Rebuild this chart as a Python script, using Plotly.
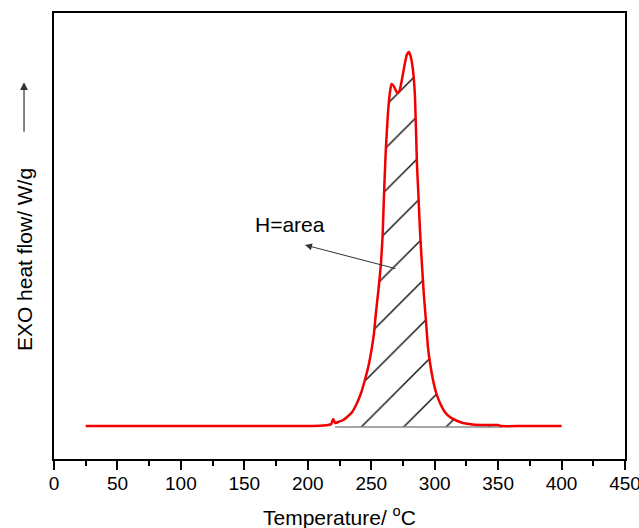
import plotly.graph_objects as go

# DSC curve: temperature (°C) and exothermic heat flow (arbitrary W/g units)
temperature = [25, 60, 100, 150, 200, 212, 216, 218.5, 220, 221.5, 224, 228, 231, 235,
               238.8, 242, 245, 248, 250.6, 252.2, 253.7, 255.7, 257.7, 259, 260, 261.5,
               263.2, 264.8, 266, 267.1, 268.5, 270, 271, 272.5, 274, 276, 278, 279.7,
               281, 282.9, 284.5, 286, 287.2, 288.4, 290, 291.6, 293.2, 294.7, 296.6,
               298.7, 301.2, 304.2, 308, 312, 317, 322.3, 330, 340, 350, 352, 370, 400]
heat_flow = [0.00, 0.00, 0.00, 0.00, 0.00, 0.005, 0.01, 0.02, 0.07, 0.03, 0.04, 0.06,
             0.09, 0.14, 0.23, 0.33, 0.46, 0.61, 0.79, 0.93, 1.13, 1.36, 1.63, 1.91,
             2.29, 2.76, 3.13, 3.34, 3.42, 3.41, 3.38, 3.34, 3.33, 3.36, 3.45, 3.59,
             3.71, 3.74, 3.70, 3.56, 3.29, 2.63, 2.31, 1.96, 1.61, 1.29, 1.04, 0.79,
             0.61, 0.46, 0.33, 0.23, 0.14, 0.09, 0.055, 0.03, 0.015, 0.01, 0.01, 0.0,
             0.0, 0.0]

# integration baseline limits
base_start, base_end, base_level = 221.5, 353, -0.01

x_ticks = [0, 50, 100, 150, 200, 250, 300, 350, 400, 450]
x_minor_ticks = [25, 75, 125, 175, 225, 275, 325, 375, 425]

# annotation anchor values (data units)
label_text = "H=area"
label_pos = (185.6, 2.02)
arrow_tail = (270.3, 1.57)
arrow_head = (197.8, 1.81)

fig = go.Figure()

# baseline (grey)
fig.add_trace(go.Scatter(x=[base_start, base_end], y=[base_level, base_level],
                         mode="lines", line=dict(color="#8a8a8a", width=1.5),
                         showlegend=False, hoverinfo="skip"))

# hatched area under the peak
seg_x = [t for t in temperature if base_start <= t <= base_end]
seg_y = [h for t, h in zip(temperature, heat_flow) if base_start <= t <= base_end]
fig.add_trace(go.Scatter(x=seg_x, y=seg_y, mode="lines",
                         line=dict(width=0, shape="spline", smoothing=0.5),
                         fill="tonexty", fillcolor="rgba(0,0,0,0)",
                         fillpattern=dict(shape="/", size=30, solidity=0.045,
                                          fgcolor="#000000", fgopacity=1,
                                          bgcolor="rgba(0,0,0,0)"),
                         showlegend=False, hoverinfo="skip"))

# DSC curve
fig.add_trace(go.Scatter(x=temperature, y=heat_flow, mode="lines",
                         line=dict(color="#f00000", width=2.5, shape="spline", smoothing=0.5),
                         showlegend=False))

fig.add_annotation(x=arrow_head[0], y=arrow_head[1], ax=arrow_tail[0], ay=arrow_tail[1],
                   xref="x", yref="y", axref="x", ayref="y", text="", showarrow=True,
                   arrowhead=2, arrowsize=1.4, arrowwidth=1, arrowcolor="#333333")
fig.add_annotation(x=label_pos[0], y=label_pos[1], xref="x", yref="y", text=label_text,
                   showarrow=False, font=dict(size=21, color="black"))

# axis titles
fig.add_annotation(x=0.5, y=-0.128, xref="paper", yref="paper",
                   text="Temperature/ <sup>o</sup>C", showarrow=False,
                   xanchor="center", yanchor="middle", font=dict(size=21, color="black"))
fig.add_annotation(x=-0.0525, y=0.446, xref="paper", yref="paper",
                   text="EXO heat flow/ W/g", textangle=-90, showarrow=False,
                   xanchor="center", yanchor="middle", font=dict(size=21, color="black"))
fig.add_annotation(x=-0.0525, y=0.845, xref="paper", yref="paper", ax=0, ay=51,
                   text="", showarrow=True, arrowhead=2, arrowsize=1.3, arrowwidth=1.2,
                   arrowcolor="#333333")

fig.update_xaxes(range=[0, 450], tickvals=x_ticks, ticks="outside", ticklen=9, tickwidth=2,
                 tickcolor="black", showline=True, linewidth=2, linecolor="black", mirror=True,
                 showgrid=False, zeroline=False, ticklabeloverflow="allow", automargin=False,
                 ticklabelstandoff=-3,
                 tickfont=dict(size=19, color="black", family="Liberation Sans, Arial"),
                 minor=dict(tickvals=x_minor_ticks, ticks="outside",
                            ticklen=5, tickwidth=2, tickcolor="black"))
fig.update_yaxes(range=[-0.33, 4.13], showticklabels=False, ticks="", showline=True,
                 linewidth=2, linecolor="black", mirror=True, showgrid=False, zeroline=False,
                 automargin=False)

fig.update_layout(width=639, height=528, margin=dict(l=54, r=14, t=13, b=69),
                  plot_bgcolor="white", paper_bgcolor="white",
                  font=dict(family="Liberation Sans, Arial", color="black"))

fig.write_html("out.html")
